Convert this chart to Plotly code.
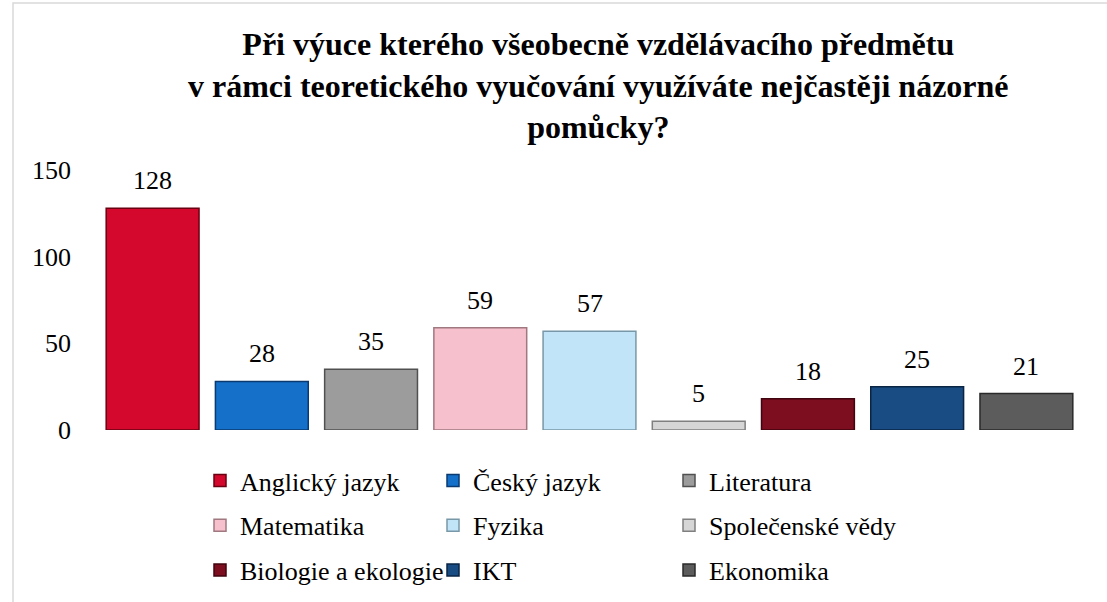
import plotly.graph_objects as go

categories = ["Anglický jazyk", "Český jazyk", "Literatura", "Matematika", "Fyzika",
              "Společenské vědy", "Biologie a ekologie", "IKT", "Ekonomika"]
values = [128, 28, 35, 59, 57, 5, 18, 25, 21]
colors = ["#D4082C", "#1470C8", "#9C9C9C", "#F6C0CC", "#C2E4F8",
          "#D6D6D6", "#7C0E20", "#1A4C84", "#5C5C5C"]
edge_colors = ["#6A0010", "#0A3A70", "#505050", "#A07880", "#7898A8",
               "#808080", "#40050E", "#0A2444", "#2A2A2A"]
y_ticks = [0, 50, 100, 150]

title_text = ("Při výuce kterého všeobecně vzdělávacího předmětu<br>"
              "v rámci teoretického vyučování využíváte nejčastěji názorné<br>"
              "pomůcky?")

FONT = "Liberation Serif"
FS = 26
W, H = 1107, 602
L, R, T, B = 98, 26, 170, 172
PH = H - T - B
PW = W - L - R

fig = go.Figure()
legend_names = ["legend", "legend2", "legend3"]
for i, (cat, val) in enumerate(zip(categories, values)):
    fig.add_trace(go.Bar(
        x=[cat], y=[val], name=cat,
        marker=dict(color=colors[i], line=dict(color=edge_colors[i], width=1.5)),
        legend=legend_names[i % 3], legendgroup="g%d" % i,
    ))

# value labels above bars
annotations = [dict(
    x=cat, y=val, text=str(val), xref="x", yref="y", showarrow=False,
    yanchor="bottom", yshift=11, font=dict(family=FONT, size=FS, color="#000"),
) for cat, val in zip(categories, values)]

annotations.append(dict(
    text="<b>" + title_text + "</b>", xref="paper", yref="paper",
    x=(598 - L) / PW, y=1 + (T - 85) / PH, xanchor="center", yanchor="middle",
    showarrow=False, font=dict(family=FONT, size=32, color="#000"), align="center",
))

col_x = [200, 433, 669]
legend_common = dict(
    orientation="v", xref="container", yref="container",
    xanchor="left", yanchor="top", y=1 - 457 / H,
    font=dict(family=FONT, size=FS, color="#000"),
    bgcolor="rgba(0,0,0,0)", itemclick=False, itemdoubleclick=False,
    tracegroupgap=8,
)
fig.update_layout(
    legend=dict(legend_common, x=col_x[0] / W),
    legend2=dict(legend_common, x=col_x[1] / W),
    legend3=dict(legend_common, x=col_x[2] / W),
)

fig.update_layout(
    width=W, height=H,
    margin=dict(l=L, r=R, t=T, b=B, autoexpand=False),
    paper_bgcolor="white", plot_bgcolor="white",
    barmode="overlay", bargap=0.15,
    showlegend=True,
    font=dict(family=FONT, size=FS, color="#000"),
    xaxis=dict(showticklabels=False, showgrid=False, zeroline=False, showline=False,
               categoryorder="array", categoryarray=categories),
    yaxis=dict(range=[0, 150], tickvals=y_ticks, showgrid=False, zeroline=False,
               showline=False, ticks="", ticklabelstandoff=26,
               tickfont=dict(family=FONT, size=FS, color="#000")),
    annotations=annotations,
    shapes=[dict(
        type="rect", xref="paper", yref="paper",
        x0=(13 - L) / PW, x1=(W + 20 - L) / PW,
        y0=-(H + 20 - (H - B)) / PH, y1=1 + (T - 3) / PH,
        line=dict(color="#D9D9D9", width=1.5), fillcolor="rgba(0,0,0,0)", layer="below",
    )],
)

fig.write_html("out.html", config={"displayModeBar": False},
               post_script="document.body.style.margin='0';")
